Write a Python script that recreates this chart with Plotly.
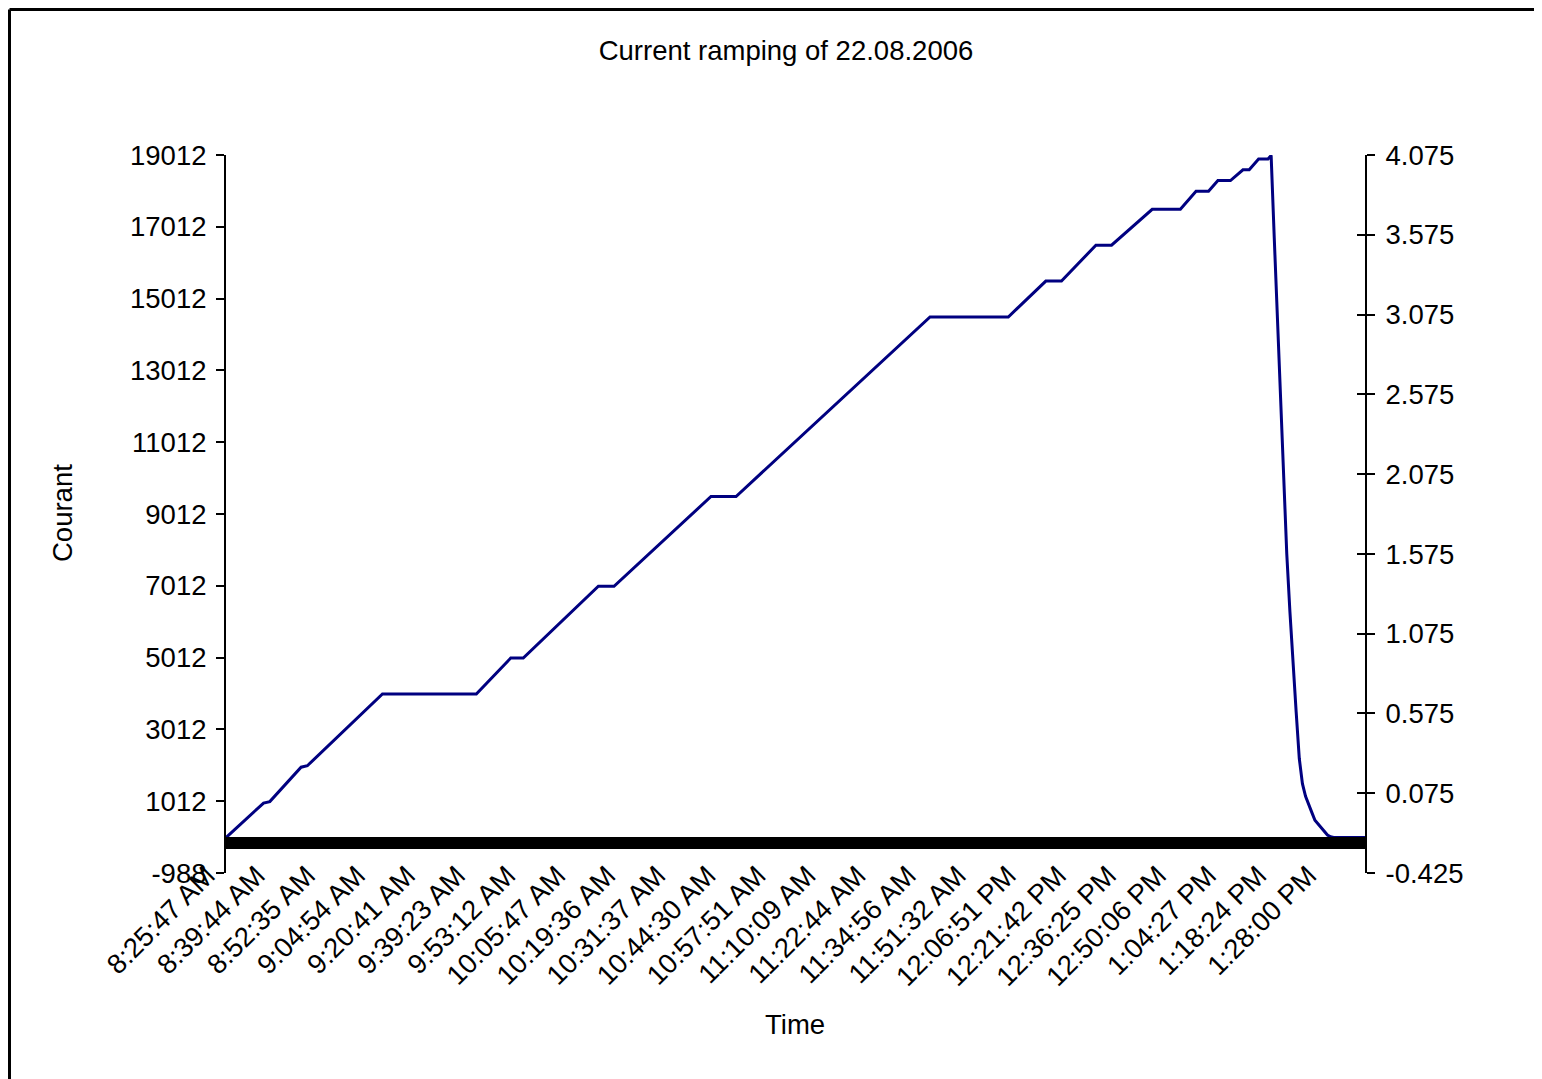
import plotly.graph_objects as go

# ---- data ----
time_labels = ["8:25:47 AM", "8:39:44 AM", "8:52:35 AM", "9:04:54 AM", "9:20:41 AM",
               "9:39:23 AM", "9:53:12 AM", "10:05:47 AM", "10:19:36 AM", "10:31:37 AM",
               "10:44:30 AM", "10:57:51 AM", "11:10:09 AM", "11:22:44 AM", "11:34:56 AM",
               "11:51:32 AM", "12:06:51 PM", "12:21:42 PM", "12:36:25 PM", "12:50:06 PM",
               "1:04:27 PM", "1:18:24 PM", "1:28:00 PM"]
label_step = 16
n_samples = 365

sample_index = [0, 12, 14, 24, 26, 50, 80, 91, 95, 119, 124, 155, 163, 225, 250, 262, 267,
                278, 283, 296, 305, 310, 314, 317, 321, 325, 327, 330, 333, 334,
                335, 336, 337, 338, 339, 340, 341, 342, 343, 344, 345, 346, 347, 348,
                349, 350, 351, 352, 353, 354, 364]
courant = [0, 960, 1000, 1960, 2000, 4000, 4000, 5000, 5000, 7000, 7000, 9500, 9500, 14500,
           14500, 15500, 15500, 16500, 16500, 17500, 17500, 18000, 18000, 18300, 18300,
           18600, 18600, 18900, 18900, 19000,
           16700, 14400, 12200, 10000, 7900, 6300, 4800, 3500, 2200, 1500, 1150, 900, 700,
           480, 380, 270, 150, 70, 20, 0, 0]

left_ticks = [-988, 1012, 3012, 5012, 7012, 9012, 11012, 13012, 15012, 17012, 19012]
right_ticks = [-0.425, 0.075, 0.575, 1.075, 1.575, 2.075, 2.575, 3.075, 3.575, 4.075]

# ---- layout constants (page pixel coordinates; page has an 8px body margin) ----
OFF = 8
W, H = 1534, 1071
PL, PR, PT, PB = 226, 1365, 155, 873          # plot area in page pixels
L, T = PL - OFF, PT - OFF
R, B = W - (PR - OFF), H - (PB - OFF)
PW, PH = PR - PL, PB - PT
FONT = "Liberation Sans, Arial, sans-serif"
FS = 27.5


def px_x(px):
    return (px - PL) / PW


def px_y(py):
    return (PB - py) / PH


label_pos = [i * label_step for i in range(len(time_labels))]
xr = [0, n_samples - 1]
ymin, ymax = left_ticks[0], left_ticks[-1]
left_text = [str(v) for v in left_ticks]
right_text = ["%.3f" % v for v in right_ticks]

fig = go.Figure()
fig.add_trace(go.Scatter(x=sample_index, y=courant, mode="lines",
                         line=dict(color="#000080", width=3), xaxis="x", yaxis="y",
                         showlegend=False, hoverinfo="skip"))
# axis carriers (no visible marks)
fig.add_trace(go.Scatter(x=[0], y=[0], mode="none", xaxis="x2", yaxis="y", showlegend=False,
                         hoverinfo="skip"))
fig.add_trace(go.Scatter(x=[0], y=[0], mode="none", xaxis="x", yaxis="y2", showlegend=False,
                         hoverinfo="skip"))
fig.add_trace(go.Scatter(x=[0], y=[0], mode="none", xaxis="x", yaxis="y3", showlegend=False,
                         hoverinfo="skip"))

zero_pos = (0 - ymin) / (ymax - ymin)

fig.update_layout(
    width=W, height=H,
    margin=dict(l=L, r=R, t=T, b=B, pad=0),
    paper_bgcolor="white", plot_bgcolor="white",
    font=dict(family=FONT, size=FS, color="black"),
    showlegend=False,
    title=dict(text="Current ramping of 22.08.2006", x=px_x(786), xref="paper",
               xanchor="center", y=1 - (50 - OFF) / H, yref="container", yanchor="middle",
               font=dict(family=FONT, size=FS, color="black")),
    xaxis=dict(range=xr, tickvals=label_pos, ticktext=time_labels, tickangle=-45,
               anchor="free", position=0.028,
               showline=False, ticks="", showgrid=False, zeroline=False,
               tickfont=dict(size=FS), ticklabelshift=-19),
    xaxis2=dict(range=xr, overlaying="x", anchor="free", position=zero_pos,
                showline=True, linecolor="black", linewidth=2,
                ticks="outside", ticklen=10, tickwidth=3.6, tickcolor="black",
                tick0=0, dtick=1, showticklabels=False, showgrid=False, zeroline=False),
    yaxis=dict(range=[ymin, ymax], tickvals=left_ticks, ticktext=left_text,
               showline=True, linecolor="black", linewidth=2,
               ticks="outside", ticklen=8, tickwidth=2, tickcolor="black",
               showgrid=False, zeroline=False, ticklabelstandoff=4),
    yaxis2=dict(range=[right_ticks[0], right_ticks[-1]], tickvals=right_ticks,
                ticktext=right_text, overlaying="y", side="right", anchor="x",
                showline=True, linecolor="black", linewidth=2,
                ticks="outside", ticklen=8, tickwidth=2, tickcolor="black",
                showgrid=False, zeroline=False, ticklabelstandoff=5),
    yaxis3=dict(range=[right_ticks[0], right_ticks[-1]], tickvals=right_ticks,
                overlaying="y", side="right", anchor="x", showticklabels=False,
                showline=True, linecolor="black", linewidth=2,
                ticks="inside", ticklen=8, tickwidth=2, tickcolor="black",
                showgrid=False, zeroline=False),
    annotations=[
        dict(text="Courant", textangle=-90, x=px_x(62), y=px_y(513), xref="paper",
             yref="paper", xanchor="center", yanchor="middle", showarrow=False,
             font=dict(size=FS)),
        dict(text="Time", x=px_x(795), y=px_y(1025), xref="paper", yref="paper",
             xanchor="center", yanchor="middle", showarrow=False, font=dict(size=FS)),
    ],
    shapes=[
        dict(type="line", xref="paper", yref="paper", x0=px_x(9.5), x1=px_x(9.5),
             y0=px_y(1200), y1=px_y(9.5), line=dict(color="black", width=3)),
        dict(type="line", xref="paper", yref="paper", x0=px_x(9.5), x1=px_x(1700),
             y0=px_y(9.5), y1=px_y(9.5), line=dict(color="black", width=3)),
    ],
)

fig.write_html("out.html")
